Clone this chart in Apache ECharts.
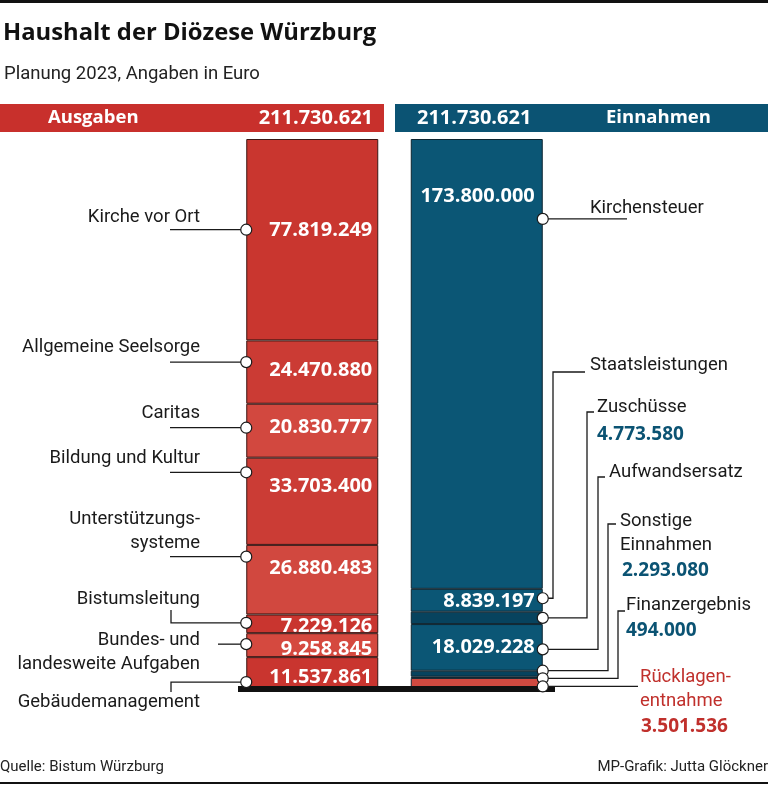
<!DOCTYPE html>
<html><head><meta charset="utf-8">
<script src="https://cdn.jsdelivr.net/npm/echarts@6/dist/echarts.min.js"></script>
<style>html,body{margin:0;padding:0;background:#fff}#c{width:768px;height:786px}</style>
</head><body><div id="c"></div>
<script>
// ---- data ----
const ausgabenLabels = ['Kirche vor Ort','Allgemeine Seelsorge','Caritas','Bildung und Kultur','Unterstützungs-\nsysteme','Bistumsleitung','Bundes- und\nlandesweite Aufgaben','Gebäudemanagement'];
const ausgabenValues = [77819249, 24470880, 20830777, 33703400, 26880483, 7229126, 9258845, 11537861];
const einnahmenLabels = ['Kirchensteuer','Staatsleistungen','Zuschüsse','Aufwandsersatz','Sonstige\nEinnahmen','Finanzergebnis','Rücklagen-\nentnahme'];
const einnahmenValues = [173800000, 8839197, 4773580, 18029228, 2293080, 494000, 3501536];
const sides = ['Ausgaben','Einnahmen'];

// ---- styles / layout ----
const NARROW = "Roboto,'DejaVu Sans Condensed',sans-serif";
const BOLD = "'Open Sans',Roboto,sans-serif";
const RED = '#c8302c', TEAL = '#0b5373';
const LBL = '18.5px ';
const leftColors = ['#c9362f','#cb3b34','#d2483f','#cb3c35','#d1483f','#c9352f','#d5493f','#c9352f'];
const rightColors = ['#0b5675','#0b5675','#07435e','#0b5675','#07435e','#0b5675','#d04a40'];
const leftValDy = [-9,-2,-3,-15,-11,2,4,5];
const rightInside = [true,true,false,true,false,false,false];
const rightValDy = [-168,1,0,0,0,0,0];
const leftLayout = [
  {ty:217, dotDy:-10, kind:'straight', x0:170},
  {ty:347, dotDy:-10, kind:'straight', x0:170},
  {ty:413, dotDy:-3, kind:'straight', x0:170},
  {ty:458, dotDy:-29, kind:'straight', x0:170},
  {ty:519, dotDy:-23, kind:'straight', x0:170},
  {ty:599, dotDy:-1, kind:'down', x0:171, y0:610},
  {ty:640, dotDy:-1, kind:'straight', x0:218},
  {ty:702, dotDy:10, kind:'up', x0:171, y1:692}
];
const rightLayout = [
  {dotDy:-145, kind:'straight', x1:627, tx:590, ty:208},
  {dotDy:-2, kind:'elbow', vx:553, vy:372, hx:585, tx:590, ty:365},
  {dotDy:0, kind:'elbow', vx:587, vy:412, hx:594, tx:597, ty:407, valX:597, valY:435},
  {dotDy:2, kind:'elbow', vx:598, vy:477, hx:605, tx:609, ty:472},
  {dotDy:-3, kind:'elbow', vx:608, vy:524, hx:616, tx:620, ty:521, valX:622, valY:571},
  {dotDy:1, kind:'elbow', vx:618, vy:611, hx:625, tx:626, ty:605, valX:626, valY:631},
  {dotDy:4, kind:'straight', x1:638, tx:640, ty:677, valX:641, valY:727, red:true}
];

function fmt(n){ return String(n).replace(/\B(?=(\d{3})+(?!\d))/g,'.'); }
const totalA = ausgabenValues.reduce((a,b)=>a+b,0);
const totalE = einnahmenValues.reduce((a,b)=>a+b,0);
const total = Math.max(totalA,totalE);

const chart = echarts.init(document.getElementById('c'), null, {renderer:'canvas'});
const series = [];
const valLabel = {color:'#fff', fontFamily:BOLD, fontWeight:'bold', fontSize:20};
ausgabenValues.forEach((v,i)=>{
  series.push({type:'bar', stack:'s', name:ausgabenLabels[i], data:[v,'-'], barWidth:132, silent:true,
    itemStyle:{color:leftColors[i], borderColor:'#3a1613', borderWidth:1},
    label:Object.assign({show:true, position:'insideRight', distance:6, offset:[0,leftValDy[i]], formatter:()=>fmt(v)}, valLabel)});
});
einnahmenValues.forEach((v,i)=>{
  series.push({type:'bar', stack:'s', name:einnahmenLabels[i], data:['-',v], barWidth:132, silent:true,
    itemStyle:{color:rightColors[i], borderColor:'#0d2430', borderWidth:1},
    label:Object.assign({show:rightInside[i], position:'insideRight', distance:8, offset:[0,rightValDy[i]], formatter:()=>fmt(v)}, valLabel)});
});

chart.setOption({
  animation:false,
  grid:{left:230, width:329, top:139, bottom:99},
  xAxis:{type:'category', data:sides, show:false},
  yAxis:{type:'value', min:0, max:total, inverse:true, show:false},
  series:series
});

function buildGraphic(){
  const g = [];
  const txt = (text,x,y,o)=>g.push({type:'text', z:20, style:Object.assign({text:text, x:x, y:y, fill:'#1a1a1a', font:LBL+NARROW, textVerticalAlign:'middle'},o||{})});
  const line = (pts)=>g.push({type:'polyline', z:15, shape:{points:pts}, style:{stroke:'#1a1a1a', lineWidth:1.3, fill:null}});
  const dot = (x,y)=>g.push({type:'circle', z:30, shape:{cx:x, cy:y, r:5.5}, style:{fill:'#fff', stroke:'#1a1a1a', lineWidth:1.2}});
  // top rule, title, subtitle
  g.push({type:'rect', shape:{x:0,y:0,width:768,height:3}, style:{fill:'#111'}});
  txt('Haushalt der Diözese Würzburg', 3, 33, {font:'bold 23.8px '+BOLD, fill:'#111'});
  txt('Planung 2023, Angaben in Euro', 4, 74, {font:'18.5px '+NARROW, fill:'#222'});
  // header bands
  g.push({type:'rect', shape:{x:0,y:104,width:384,height:28}, style:{fill:RED}});
  g.push({type:'rect', shape:{x:395,y:104,width:373,height:28}, style:{fill:TEAL}});
  txt(sides[0], 48, 118, {font:'bold 18.5px '+BOLD, fill:'#fff'});
  txt(fmt(totalA), 373, 118, {font:'bold 20px '+BOLD, fill:'#fff', textAlign:'right'});
  txt(fmt(totalE), 417, 118, {font:'bold 20px '+BOLD, fill:'#fff'});
  txt(sides[1], 606, 118, {font:'bold 18.5px '+BOLD, fill:'#fff'});
  // base
  const base = chart.convertToPixel({xAxisIndex:0,yAxisIndex:0},[0,total]);
  g.push({type:'rect', z:5, shape:{x:238, y:base[1]-1, width:317, height:6}, style:{fill:'#111'}});
  // left annotations
  let cum = 0;
  ausgabenValues.forEach((v,i)=>{
    const p = chart.convertToPixel({xAxisIndex:0,yAxisIndex:0},[0,cum+v/2]);
    cum += v;
    const L = leftLayout[i];
    const dx = p[0]-66, dy = p[1]+L.dotDy;
    g.push({type:'text', z:20, style:{text:ausgabenLabels[i], x:200, y:L.ty-12, fill:'#1a1a1a', font:LBL+NARROW, textAlign:'right', textVerticalAlign:'top', lineHeight:24}});
    if(L.kind==='straight') line([[L.x0,dy],[dx,dy]]);
    else if(L.kind==='down') line([[L.x0,L.y0],[L.x0,dy],[dx,dy]]);
    else line([[L.x0,L.y1],[L.x0,dy],[dx,dy]]);
    dot(dx,dy);
  });
  // right annotations
  cum = 0;
  einnahmenValues.forEach((v,i)=>{
    const p = chart.convertToPixel({xAxisIndex:0,yAxisIndex:0},[1,cum+v/2]);
    cum += v;
    const R = rightLayout[i];
    const dx = p[0]+66, dy = p[1]+R.dotDy;
    g.push({type:'text', z:20, style:{text:einnahmenLabels[i], x:R.tx, y:R.ty-12, fill:R.red?'#c0302c':'#1a1a1a', font:LBL+NARROW, textAlign:'left', textVerticalAlign:'top', lineHeight:24}});
    if(R.kind==='straight') line([[dx,dy],[R.x1,dy]]);
    else line([[dx,dy],[R.vx,dy],[R.vx,R.vy],[R.hx,R.vy]]);
    if(R.valY!==undefined) txt(fmt(v), R.valX, R.valY, {font:'bold 19px '+BOLD, fill:R.red?'#c0302c':TEAL});
    dot(dx,dy);
  });
  // footer
  txt('Quelle: Bistum Würzburg', 0, 767, {font:'15px '+NARROW, fill:'#222'});
  txt('MP-Grafik: Jutta Glöckner', 768, 767, {font:'15px '+NARROW, fill:'#222', textAlign:'right'});
  g.push({type:'rect', shape:{x:0,y:782,width:768,height:2}, style:{fill:'#111'}});
  chart.setOption({graphic:g});
}
buildGraphic();
</script>
</body></html>
